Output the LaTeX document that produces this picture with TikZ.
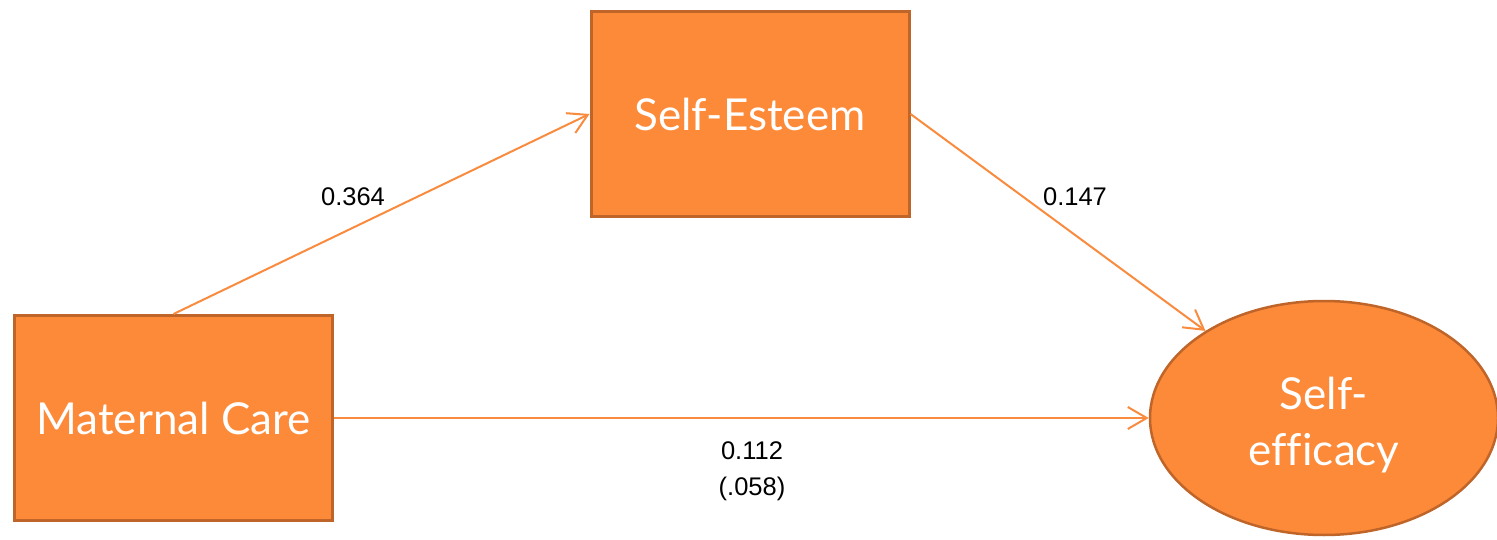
\documentclass[tikz,border=0pt]{standalone}
\usepackage{fontspec}
\setmainfont{Liberation Sans}
\newfontfamily\boxfont[Ligatures=NoCommon]{Lato}
\usetikzlibrary{shapes.geometric,arrows.meta}
\definecolor{orfill}{HTML}{FD8A39}
\definecolor{ordraw}{HTML}{BF6529}
\definecolor{orline}{HTML}{F98B3E}
\tikzset{
  boxnode/.style={draw=ordraw, line width=3pt, fill=orfill, text=white, minimum width=318pt, minimum height=205pt, inner sep=0pt, font=\boxfont\fontsize{44}{50}\selectfont},
  ellnode/.style={ellipse, draw=ordraw, line width=2.5pt, fill=orfill, text=white, minimum width=348pt, minimum height=234pt, inner sep=0pt, align=center, font=\boxfont\fontsize{44}{56}\selectfont},
  conn/.style={draw=orline, line width=2pt, -{Straight Barb[length=19pt,width=22pt,line width=2pt]}},
  lbl/.style={font=\fontsize{25.5}{36}\selectfont, align=center, inner sep=0pt}
}
\begin{document}
\begin{tikzpicture}[x=1pt,y=1pt]
\useasboundingbox (0,0) rectangle (1497,539);
\node[boxnode] (se) at (750,425) {Self-Esteem};
\node[boxnode] (mc) at (173.5,121) {Maternal Care};
\node[ellnode] (ef) at (1324,121) {};
\node[font=\boxfont\fontsize{44}{56}\selectfont, text=white, align=center, inner sep=0pt] (eft) at (1324,114) {Self-\\efficacy};
\draw[conn] (mc.east) -- (ef.west);
\draw[conn] (mc.north) -- (se.west);
\draw[conn] (se.east) -- (ef);
\node[lbl] (l1) at (353,342) {0.364};
\node[lbl] (l2) at (1075,342) {0.147};
\node[lbl] (l3) at (752,68) {0.112\\(.058)};
\end{tikzpicture}
\end{document}
